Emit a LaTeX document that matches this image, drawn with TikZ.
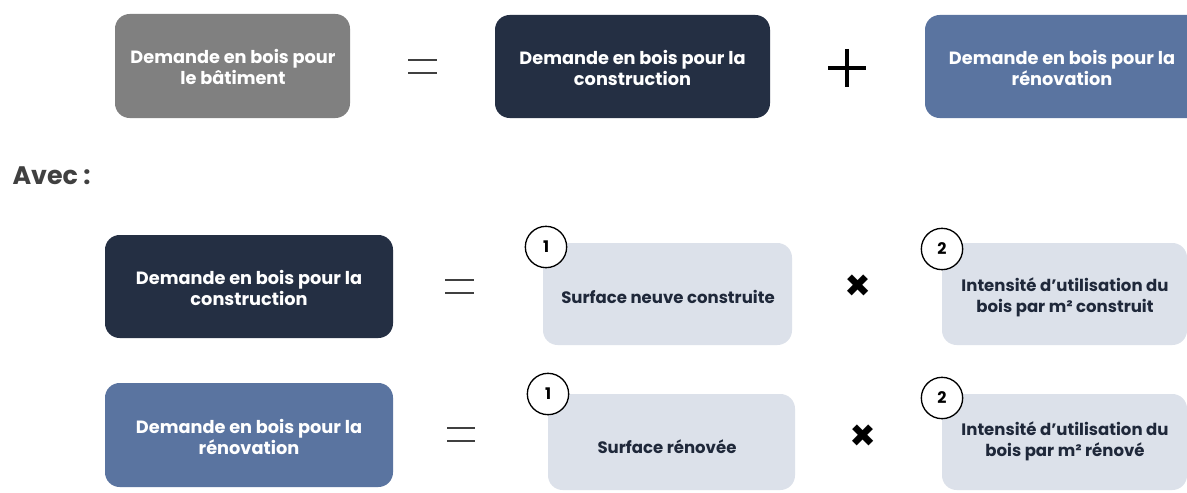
\documentclass[tikz,border=0pt]{standalone}
\usepackage{fontspec}
\setmainfont{Poppins}

\definecolor{gris}{RGB}{128,128,128}
\definecolor{marine}{RGB}{36,47,67}
\definecolor{bleu}{RGB}{90,116,160}
\definecolor{clair}{RGB}{220,225,234}
\definecolor{texteclair}{RGB}{31,40,58}
\definecolor{signe}{RGB}{64,64,64}

\tikzset{every picture/.style={line width=0.75pt}}
\tikzset{
  boite/.style={rounded corners=11pt},
  titre/.style={inner sep=0.75pt, align=center, text=white, font=\fontsize{13.3}{16}\selectfont\bfseries},
  facteur/.style={inner sep=0.75pt, align=center, text=texteclair, font=\fontsize{12.4}{16}\selectfont\bfseries},
  rond/.style={circle, draw=black, fill=white, line width=1pt, minimum size=31pt, inner sep=0pt, font=\fontsize{12}{14}\selectfont\bfseries},
  egal/.style={draw=signe, line width=2.2pt},
  plus/.style={draw=black, line width=2.8pt},
  fois/.style={inner sep=0pt, font=\fontsize{32}{32}\selectfont\bfseries}
}

\begin{document}
\begin{tikzpicture}[x=0.75pt,y=0.75pt,yscale=-1,xscale=1]
\clip (0,0) rectangle (1187,492);
\fill[white] (0,0) rectangle (1187,492);

%Rounded Rect [batiment]
\fill [gris, boite] (115,14) rectangle (350,118) ;
%Rounded Rect [construction]
\fill [marine, boite] (495,15) rectangle (770,118) ;
%Rounded Rect [renovation]
\fill [bleu, boite] (925,15) rectangle (1240,118) ;
%Equal
\draw [egal] (408,60) -- (437,60) (408,73) -- (437,73) ;
%Plus
\draw [plus] (847,49) -- (847,87) (828,68) -- (866,68) ;

% Text Node
\node [titre] (batiment) at (233,67) {Demande en bois pour\\le bâtiment};
% Text Node
\node [titre] (construction) at (632.5,68) {Demande en bois pour la\\construction};
% Text Node
\node [titre] (renovation) at (1062,68) {Demande en bois pour la\\rénovation};

% Text Node
\node [anchor=west, inner sep=0.75pt, text=signe, font=\fontsize{19}{22}\selectfont\bfseries] (avec) at (11,176) {Avec :};

%Rounded Rect [construction, ligne 2]
\fill [marine, boite] (105,235) rectangle (393,338) ;
\draw [egal] (445,280) -- (474,280) (445,293) -- (474,293) ;
\fill [clair, boite] (543,243) rectangle (792,345) ;
\fill [clair, boite] (942,243) rectangle (1187,345) ;

% Text Node
\node [titre] (constructionb) at (249,288) {Demande en bois pour la\\construction};
\node [facteur] (surfneuve) at (668,297) {Surface neuve construite};
\node [fois] (foisa) at (858,288) {×};
\node [facteur] (intensa) at (1065,297) {Intensité d’utilisation du\\bois par m² construit};
\node [rond] (una) at (546,247) {1};
\node [rond] (deuxa) at (942,249) {2};

%Rounded Rect [renovation, ligne 3]
\fill [bleu, boite] (105,383) rectangle (393,487) ;
\draw [egal] (447,428) -- (475,428) (447,441) -- (475,441) ;
\fill [clair, boite] (548,394) rectangle (795,490) ;
\fill [clair, boite] (942,394) rectangle (1187,490) ;

% Text Node
\node [titre] (renovationb) at (249,437) {Demande en bois pour la\\rénovation};
\node [facteur] (surfreno) at (667,447) {Surface rénovée};
\node [fois] (foisb) at (863,438) {×};
\node [facteur] (intensb) at (1065,441) {Intensité d’utilisation du\\bois par m² rénové};
\node [rond] (unb) at (548,394) {1};
\node [rond] (deuxb) at (942,398) {2};

\end{tikzpicture}
\end{document}
